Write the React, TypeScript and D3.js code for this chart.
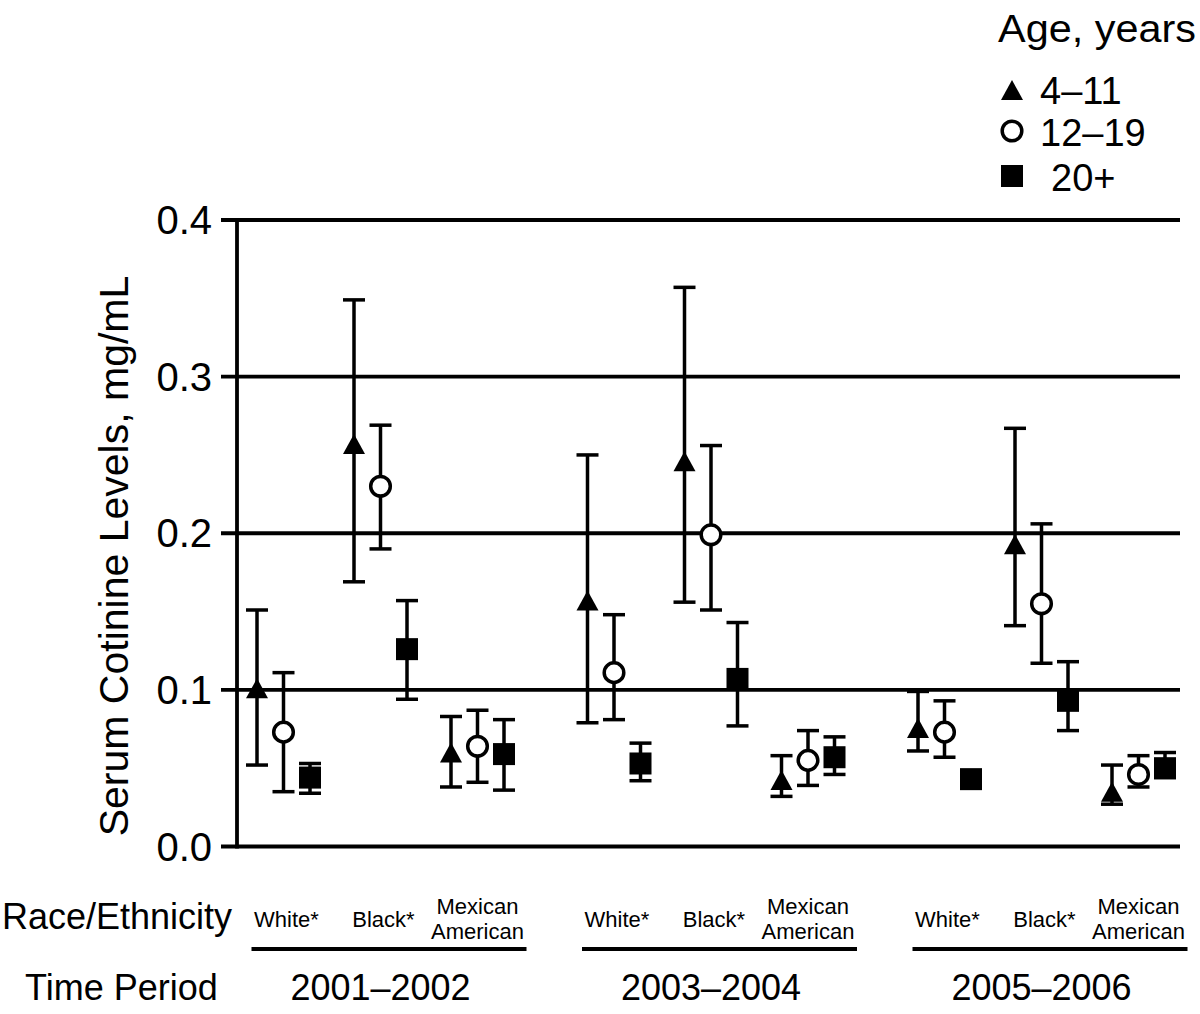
import React from "react";
import * as d3 from "d3";

const periods = ["2001–2002", "2003–2004", "2005–2006"];
const races = ["White*", "Black*", "Mexican American"];
const ages = ["4–11", "12–19", "20+"];
const yTicks = [0, 0.1, 0.2, 0.3, 0.4];

// order: [period][race] flattened: P1W, P1B, P1M, P2W, P2B, P2M, P3W, P3B, P3M
const age4to11Mean = [0.101, 0.257, 0.06, 0.157, 0.246, 0.0425, 0.0757, 0.193, 0.035];
const age4to11Low = [0.052, 0.169, 0.038, 0.079, 0.156, 0.032, 0.061, 0.141, 0.027];
const age4to11High = [0.151, 0.349, 0.083, 0.25, 0.357, 0.058, 0.099, 0.267, 0.052];

const age12to19Mean = [0.073, 0.23, 0.064, 0.111, 0.199, 0.055, 0.073, 0.155, 0.046];
const age12to19Low = [0.035, 0.19, 0.041, 0.081, 0.151, 0.039, 0.057, 0.117, 0.038];
const age12to19High = [0.111, 0.269, 0.087, 0.148, 0.256, 0.074, 0.093, 0.206, 0.058];

const age20Mean = [0.044, 0.126, 0.059, 0.053, 0.107, 0.057, 0.043, 0.093, 0.05];
const age20Low = [0.034, 0.094, 0.036, 0.042, 0.077, 0.046, 0.04, 0.074, 0.044];
const age20High = [0.053, 0.157, 0.081, 0.066, 0.143, 0.07, 0.046, 0.118, 0.06];

const seriesMeans = [age4to11Mean, age12to19Mean, age20Mean];
const seriesLows = [age4to11Low, age12to19Low, age20Low];
const seriesHighs = [age4to11High, age12to19High, age20High];

const FONT = "'Liberation Sans', Arial, Helvetica, sans-serif";

function Marker({ kind, x, y }: { kind: number; x: number; y: number }) {
  if (kind === 0) {
    const w = 22, h = 20;
    const p = `M${x},${y - h / 2} L${x + w / 2},${y + h / 2} L${x - w / 2},${y + h / 2} Z`;
    return <path d={p} fill="#000" />;
  }
  if (kind === 1) {
    return <circle cx={x} cy={y} r={9.8} fill="#fff" stroke="#000" strokeWidth={3.5} />;
  }
  return <rect x={x - 11} y={y - 11} width={22} height={22} fill="#000" />;
}

export default function App() {
  const y = d3.scaleLinear().domain([0, 0.4]).range([846.5, 220]);
  const periodX = d3.scalePoint<string>().domain(periods).range([380.5, 1041.5]);
  const raceX = d3.scalePoint<string>().domain(races).range([-97, 97]);
  const ageX = d3.scalePoint<string>().domain(ages).range([-26.5, 26.5]);

  const xLeft = 221;
  const xRight = 1180;
  const axisX = 237;

  const points: { kind: number; x: number; m: number; lo: number; hi: number }[] = [];
  periods.forEach((p, pi) => {
    races.forEach((r, ri) => {
      ages.forEach((a, ai) => {
        const idx = pi * 3 + ri;
        points.push({
          kind: ai,
          x: (periodX(p) as number) + (raceX(r) as number) + (ageX(a) as number),
          m: seriesMeans[ai][idx],
          lo: seriesLows[ai][idx],
          hi: seriesHighs[ai][idx],
        });
      });
    });
  });

  const capW = 22;

  return (
    <svg
      width={1200}
      height={1014}
      style={{ position: "absolute", left: 0, top: 0, background: "#fff" }}
      fontFamily={FONT}
    >
      <rect x={0} y={0} width={1200} height={1014} fill="#fff" />
      {/* gridlines */}
      {yTicks.map((t) => (
        <line key={t} x1={xLeft} x2={xRight} y1={y(t)} y2={y(t)} stroke="#000" strokeWidth={3.8} />
      ))}
      {/* y axis */}
      <line x1={axisX} x2={axisX} y1={y(0.4) - 1.9} y2={y(0) + 1.9} stroke="#000" strokeWidth={3.8} />
      {yTicks.map((t) => (
        <text key={"l" + t} x={212} y={y(t) + 14} textAnchor="end" fontSize={40} fill="#000">
          {t.toFixed(1)}
        </text>
      ))}
      <text
        transform={`translate(128, 556) rotate(-90)`}
        textAnchor="middle"
        fontSize={41}
        fill="#000"
      >
        Serum Cotinine Levels, mg/mL
      </text>

      {/* error bars */}
      {points.map((d, i) => (
        <g key={"e" + i} stroke="#000" strokeWidth={3.5}>
          <line x1={d.x} x2={d.x} y1={y(d.lo)} y2={y(d.hi)} />
          <line x1={d.x - capW / 2} x2={d.x + capW / 2} y1={y(d.lo)} y2={y(d.lo)} />
          <line x1={d.x - capW / 2} x2={d.x + capW / 2} y1={y(d.hi)} y2={y(d.hi)} />
        </g>
      ))}
      {points.map((d, i) => (
        <Marker key={"m" + i} kind={d.kind} x={d.x} y={y(d.m)} />
      ))}

      {/* legend */}
      <text x={998} y={42} fontSize={38} fill="#000" textLength={198} lengthAdjust="spacingAndGlyphs">Age, years</text>
      <Marker kind={0} x={1012} y={90} />
      <text x={1040} y={104} fontSize={38} fill="#000">{ages[0]}</text>
      <Marker kind={1} x={1012} y={131} />
      <text x={1040} y={146} fontSize={38} fill="#000">{ages[1]}</text>
      <Marker kind={2} x={1012} y={176} />
      <text x={1051} y={191} fontSize={38} fill="#000">{ages[2]}</text>

      {/* x categories */}
      <text x={2} y={929} fontSize={36} fill="#000">Race/Ethnicity</text>
      <text x={25} y={1000} fontSize={36} fill="#000">Time Period</text>
      {periods.map((p) => {
        const cx = periodX(p) as number;
        return (
          <g key={p}>
            {races.map((r) => {
              const rx = cx + (raceX(r) as number);
              if (r === "Mexican American") {
                return (
                  <text key={r} x={rx} textAnchor="middle" fontSize={22} fill="#000">
                    <tspan x={rx} y={914}>Mexican</tspan>
                    <tspan x={rx} y={939}>American</tspan>
                  </text>
                );
              }
              return (
                <text key={r} x={rx + 3} y={927} textAnchor="middle" fontSize={22} fill="#000">
                  {r}
                </text>
              );
            })}
            <line x1={cx - 129} x2={cx + 146} y1={949} y2={949} stroke="#000" strokeWidth={4} />
            <text x={cx} y={1000} textAnchor="middle" fontSize={36} fill="#000">{p}</text>
          </g>
        );
      })}
    </svg>
  );
}
